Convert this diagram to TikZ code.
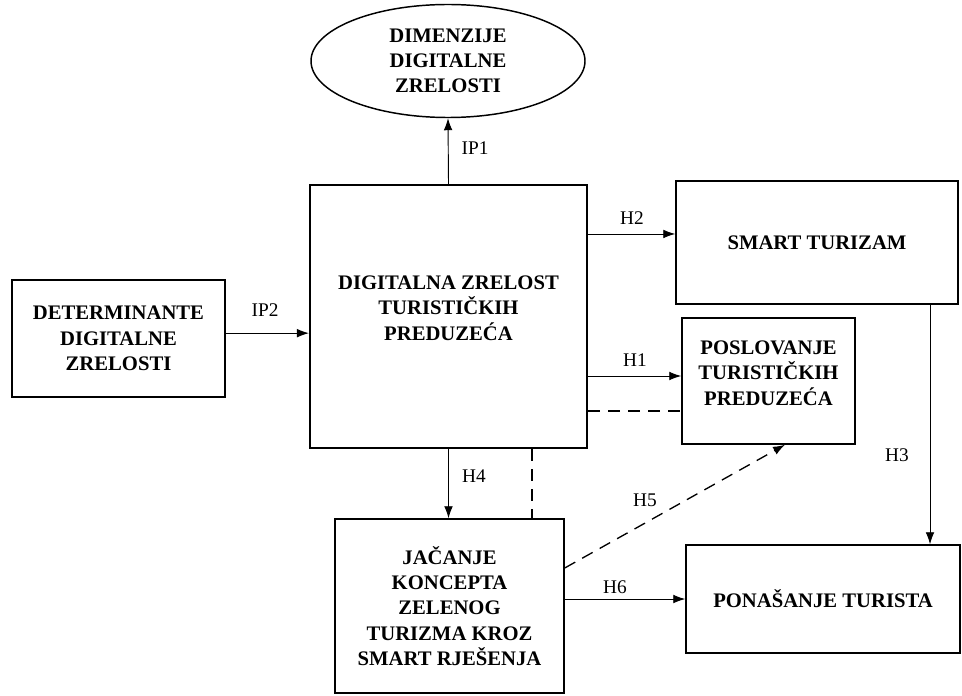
\documentclass[tikz,border=0pt]{standalone}
\usepackage{fontspec}
\setmainfont{Liberation Serif}
\usetikzlibrary{arrows.meta,shapes.geometric}
\begin{document}
\begin{tikzpicture}[x=0.75pt,y=-0.75pt,
  box/.style={draw, line width=1.1pt, rectangle, inner sep=0pt, align=center,
    font=\fontsize{15.5}{19}\selectfont\bfseries},
  boxtxt/.style={inner sep=0pt, align=center, font=\fontsize{15.5}{19}\selectfont\bfseries},
  lbl/.style={font=\fontsize{14.5}{16}\selectfont, inner sep=1pt},
  arr/.style={line width=0.7pt, -{Latex[length=9pt,width=6.5pt]}},
  dsh/.style={line width=1pt, dash pattern=on 9pt off 6pt}]
\useasboundingbox (0,0) rectangle (962,695);

\node[box, ellipse, minimum width=205.5pt, minimum height=84.75pt] (dim) at (448,61)
  {DIMENZIJE\\DIGITALNE\\ZRELOSTI};
\node[box, line width=1.6pt, minimum width=207.75pt, minimum height=197.25pt] (main) at (448.5,316.5) {};
\node[boxtxt] (maintxt) at (448.5,308)
  {DIGITALNA ZRELOST\\TURISTIČKIH\\PREDUZEĆA};
\node[box, minimum width=159.75pt, minimum height=87.75pt] (det) at (118.5,338.5)
  {DETERMINANTE\\DIGITALNE\\ZRELOSTI};
\node[box, minimum width=211.5pt, minimum height=92.25pt] (smart) at (817,242.5)
  {SMART TURIZAM};
\node[box, minimum width=129.75pt, minimum height=94.5pt] (posl) at (768.5,381) {};
\node[boxtxt] (posltxt) at (768.5,373)
  {POSLOVANJE\\TURISTIČKIH\\PREDUZEĆA};
\node[box, minimum width=171.75pt, minimum height=130.5pt] (jac) at (449.5,606)
  {JAČANJE\\KONCEPTA\\ZELENOG\\TURIZMA KROZ\\SMART RJEŠENJA};
\node[box, minimum width=205.5pt, minimum height=81pt] (pona) at (823,599)
  {PONAŠANJE TURISTA};

% connectors
\draw[arr] (main.north) -- (dim.south);
\coordinate (ip2) at ([yshift=4pt]det.east);
\draw[arr] (ip2) -- (ip2 -| main.west);
\coordinate (h2) at ([yshift=6.4pt]smart.west);
\draw[arr] (main.east |- h2) -- (h2);
\coordinate (h1) at ([yshift=3.75pt]posl.west);
\draw[arr] (main.east |- h1) -- (h1);
\coordinate (d1) at ([yshift=-22.5pt]posl.west);
\draw[dsh] (main.east |- d1) -- (d1);
\coordinate (h3) at ([xshift=84.75pt]smart.south);
\draw[arr] (h3) -- (h3 |- pona.north);
\draw[arr] (main.south) -- (main.south |- jac.north);
\coordinate (d2) at ([xshift=62.6pt]main.south);
\draw[dsh] (d2) -- (d2 |- jac.north);
\draw[dsh, -{Latex[length=9pt,width=6.5pt]}] ([yshift=28.5pt]jac.east) -- ([xshift=12.4pt]posl.south);
\draw[arr] (jac.east |- pona.west) -- (pona.west);

% labels
\node[lbl] (lip1) at (475,148) {IP1};
\node[lbl] (lip2) at (265,310) {IP2};
\node[lbl] (lh2) at (632,218) {H2};
\node[lbl] (lh1) at (635,360) {H1};
\node[lbl] (lh3) at (897,455) {H3};
\node[lbl] (lh4) at (474,476) {H4};
\node[lbl] (lh5) at (645,500) {H5};
\node[lbl] (lh6) at (615,587) {H6};
\end{tikzpicture}
\end{document}
